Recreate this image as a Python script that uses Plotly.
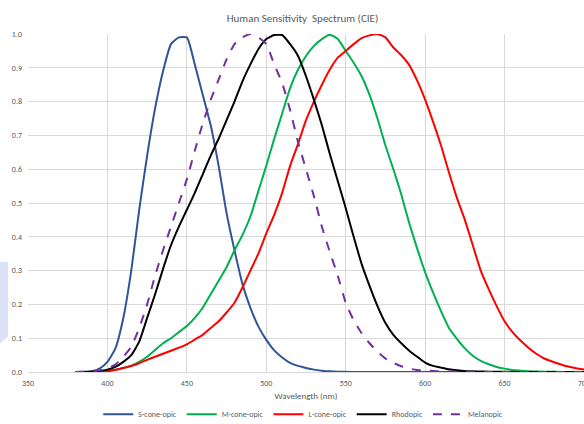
import plotly.graph_objects as go

wavelength = [380, 385, 390, 395, 400, 405, 410, 415, 420, 425, 430, 435, 440, 445, 450,
              455, 460, 465, 470, 475, 480, 485, 490, 495, 500, 505, 510, 515, 520, 525,
              530, 535, 540, 545, 550, 555, 560, 565, 570, 575, 580, 585, 590, 595, 600,
              605, 610, 615, 620, 625, 630, 635, 640, 645, 650, 655, 660, 665, 670, 675,
              680, 685, 690, 695, 700]

s_cone = [0.0, 0.0005, 0.002, 0.01, 0.03, 0.07, 0.16, 0.30, 0.48, 0.64, 0.78, 0.89, 0.97, 0.99, 0.99,
          0.91, 0.82, 0.73, 0.61, 0.47, 0.36, 0.26, 0.19, 0.135, 0.095, 0.064, 0.043, 0.027, 0.018, 0.012,
          0.007, 0.004, 0.002, 0.001, 0.0005, 0.0, 0.0, 0.0, 0.0, 0.0, 0.0, 0.0, 0.0, 0.0, 0.0,
          0.0, 0.0, 0.0, 0.0, 0.0, 0.0, 0.0, 0.0, 0.0, 0.0, 0.0, 0.0, 0.0, 0.0, 0.0,
          0.0, 0.0, 0.0, 0.0, 0.0]

m_cone = [0.0, 0.0, 0.001, 0.002, 0.004, 0.007, 0.012, 0.019, 0.03, 0.045, 0.065, 0.085, 0.10, 0.118, 0.136,
          0.16, 0.19, 0.23, 0.27, 0.31, 0.36, 0.405, 0.46, 0.535, 0.61, 0.69, 0.765, 0.84, 0.895, 0.935,
          0.965, 0.985, 0.998, 0.985, 0.95, 0.915, 0.875, 0.82, 0.75, 0.67, 0.60, 0.525, 0.44, 0.365, 0.295,
          0.235, 0.18, 0.13, 0.098, 0.07, 0.048, 0.033, 0.023, 0.015, 0.01, 0.006, 0.004, 0.002, 0.0015, 0.001,
          0.0005, 0.0003, 0.0002, 0.0001, 0.0001]

l_cone = [0.0, 0.0, 0.0005, 0.001, 0.002, 0.006, 0.012, 0.018, 0.026, 0.036, 0.045, 0.054, 0.063, 0.072, 0.082,
          0.096, 0.11, 0.13, 0.15, 0.176, 0.205, 0.25, 0.30, 0.35, 0.41, 0.465, 0.53, 0.61, 0.675, 0.745,
          0.80, 0.85, 0.895, 0.93, 0.95, 0.97, 0.988, 0.996, 1.0, 0.99, 0.96, 0.937, 0.908, 0.862, 0.806,
          0.74, 0.67, 0.59, 0.515, 0.45, 0.375, 0.30, 0.245, 0.195, 0.15, 0.118, 0.093, 0.072, 0.054, 0.04,
          0.031, 0.023, 0.016, 0.011, 0.007]

rhodopic = [0.0, 0.0, 0.001, 0.003, 0.007, 0.015, 0.03, 0.05, 0.09, 0.16, 0.23, 0.305, 0.375, 0.43, 0.48,
            0.53, 0.585, 0.64, 0.69, 0.745, 0.80, 0.86, 0.91, 0.955, 0.985, 0.997, 0.997, 0.97, 0.935, 0.875,
            0.805, 0.73, 0.645, 0.565, 0.485, 0.40, 0.32, 0.255, 0.195, 0.145, 0.11, 0.085, 0.063, 0.045, 0.028,
            0.018, 0.013, 0.008, 0.005, 0.003, 0.002, 0.0015, 0.001, 0.0007, 0.0005, 0.0003, 0.0002, 0.0001, 0.0001, 0.0,
            0.0, 0.0, 0.0, 0.0, 0.0]

melanopic = [0.0, 0.001, 0.002, 0.005, 0.011, 0.022, 0.045, 0.075, 0.13, 0.20, 0.285, 0.36, 0.43, 0.50, 0.57,
             0.655, 0.735, 0.805, 0.865, 0.925, 0.97, 0.99, 1.0, 0.99, 0.97, 0.91, 0.855, 0.775, 0.68, 0.60,
             0.52, 0.43, 0.355, 0.285, 0.205, 0.153, 0.115, 0.085, 0.06, 0.04, 0.027, 0.017, 0.01, 0.006, 0.004,
             0.003, 0.002, 0.0015, 0.001, 0.0007, 0.0005, 0.0004, 0.0003, 0.0002, 0.0001, 0.0001, 0.0, 0.0, 0.0, 0.0,
             0.0, 0.0, 0.0, 0.0, 0.0]

x_ticks = [350, 400, 450, 500, 550, 600, 650, 700]
y_ticks = [0.0, 0.1, 0.2, 0.3, 0.4, 0.5, 0.6, 0.7, 0.8, 0.9, 1.0]

series = [
    ("S-cone-opic", s_cone, "#2F5597", "solid"),
    ("M-cone-opic", m_cone, "#00B050", "solid"),
    ("L-cone-opic", l_cone, "#FF0000", "solid"),
    ("Rhodopic", rhodopic, "#000000", "solid"),
    ("Melanopic", melanopic, "#7030A0", "dash"),
]

fig = go.Figure()
for name, vals, color, dash in series:
    fig.add_trace(go.Scatter(
        x=wavelength, y=vals, name=name, mode="lines",
        line=dict(color=color, width=2, dash=dash, shape="spline", smoothing=0.5),
    ))

font_family = "Carlito, Lato, 'Open Sans', sans-serif"
grey = "#595959"

fig.update_layout(
    width=584, height=424,
    margin=dict(l=28, r=0, t=34, b=52, autoexpand=False),
    paper_bgcolor="white", plot_bgcolor="white",
    font=dict(family=font_family, color=grey, size=8),
    title=dict(text="Human Sensitivity\u00a0 Spectrum (CIE)", x=0.518, xanchor="center",
               xref="container", yref="container",
               y=0.958, yanchor="middle", font=dict(size=11, color=grey)),
    xaxis=dict(range=[350, 700], tickvals=x_ticks, ticktext=[str(v) for v in x_ticks],
               showgrid=True, gridcolor="#D9D9D9", gridwidth=1, zeroline=False,
               showline=True, linecolor="#D9D9D9", ticks="", automargin=False,
               ticklabeloverflow="allow", ticklabelstandoff=3,
               tickfont=dict(size=8, color=grey),
               title=dict(text="Wavelength (nm)", font=dict(size=9, color=grey), standoff=6)),
    yaxis=dict(range=[0, 1.0], tickvals=y_ticks, tickformat=".1f", automargin=False,
               showgrid=True, gridcolor="#D9D9D9", gridwidth=1, zeroline=False,
               showline=False, ticks="", ticklabelstandoff=5,
               tickfont=dict(size=8, color=grey)),
    legend=dict(orientation="h", x=0.495, xanchor="center", y=-0.125, yanchor="middle",
                font=dict(size=8, color=grey), itemwidth=30, tracegroupgap=0),
    showlegend=True,
)

fig.add_shape(type="path", xref="paper", yref="paper",
              path="M -0.0513 0.3255 L -0.0357 0.3255 L -0.0357 0.1050 L -0.0513 0.0830 Z",
              fillcolor="#DCE1F7", line=dict(width=0), layer="below")

fig.write_html("out.html",
               config={"displayModeBar": False},
               post_script="document.body.style.margin='0';document.body.style.overflow='hidden';")
